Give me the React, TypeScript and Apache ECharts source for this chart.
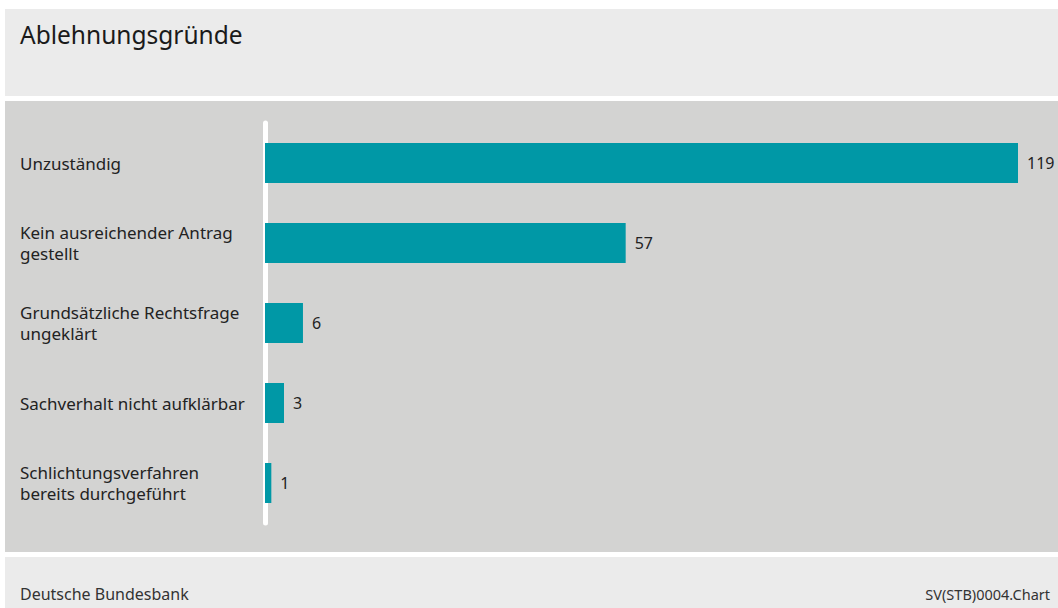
import React, { useEffect, useRef } from "react";
import * as echarts from "echarts";

const title = "Ablehnungsgründe";
const source = "Deutsche Bundesbank";
const chartId = "SV(STB)0004.Chart";
const categories = [
  "Unzuständig",
  "Kein ausreichender Antrag\ngestellt",
  "Grundsätzliche Rechtsfrage\nungeklärt",
  "Sachverhalt nicht aufklärbar",
  "Schlichtungsverfahren\nbereits durchgeführt",
];
const values = [119, 57, 6, 3, 1];

const FONT = "'Noto Sans', 'Open Sans', sans-serif";

export default function App() {
  const ref = useRef<HTMLDivElement>(null);
  useEffect(() => {
    document.body.style.margin = "0";
    const chart = echarts.init(ref.current!, null, { renderer: "svg" });
    chart.setOption({
      animation: false,
      backgroundColor: "#ffffff",
      textStyle: { fontFamily: FONT },
      graphic: [
        { type: "rect", z: -10, shape: { x: 5, y: 9, width: 1053, height: 87 }, style: { fill: "#ebebeb" } },
        { type: "rect", z: -10, shape: { x: 5, y: 101, width: 1053, height: 451 }, style: { fill: "#d3d3d2" } },
        { type: "rect", z: -10, shape: { x: 5, y: 557, width: 1053, height: 51 }, style: { fill: "#ebebeb" } },
        { type: "text", x: 20, y: 34, style: { text: title, fontSize: 24.5, fontFamily: FONT, fill: "#1a1a1a", verticalAlign: "middle" } },
        { type: "text", x: 20, y: 594, style: { text: source, fontSize: 16, fontFamily: FONT, fill: "#333333", verticalAlign: "middle" } },
        { type: "text", x: 1050, y: 594, style: { text: chartId, fontSize: 14.5, fontFamily: FONT, fill: "#333333", align: "right", verticalAlign: "middle" } },
      ],
      grid: { left: 265, top: 123, width: 753, height: 400, containLabel: false },
      xAxis: {
        type: "value",
        min: 0,
        max: 119,
        show: false,
      },
      yAxis: {
        type: "category",
        inverse: true,
        data: categories,
        offset: 2.5,
        axisLine: { show: true, lineStyle: { color: "#ffffff", width: 5 } },
        axisTick: { show: false },
        axisLabel: {
          align: "left",
          margin: 242.5,
          fontSize: 17,
          lineHeight: 21,
          color: "#222222",
          fontFamily: FONT,
        },
      },
      series: [
        {
          type: "bar",
          data: values,
          barWidth: 40,
          itemStyle: { color: "#0098a6" },
          label: {
            show: true,
            position: "right",
            distance: 9,
            fontSize: 16,
            color: "#222222",
            fontFamily: FONT,
          },
        },
      ],
    });
    return () => chart.dispose();
  }, []);
  return <div ref={ref} style={{ width: 1058, height: 608 }} />;
}
